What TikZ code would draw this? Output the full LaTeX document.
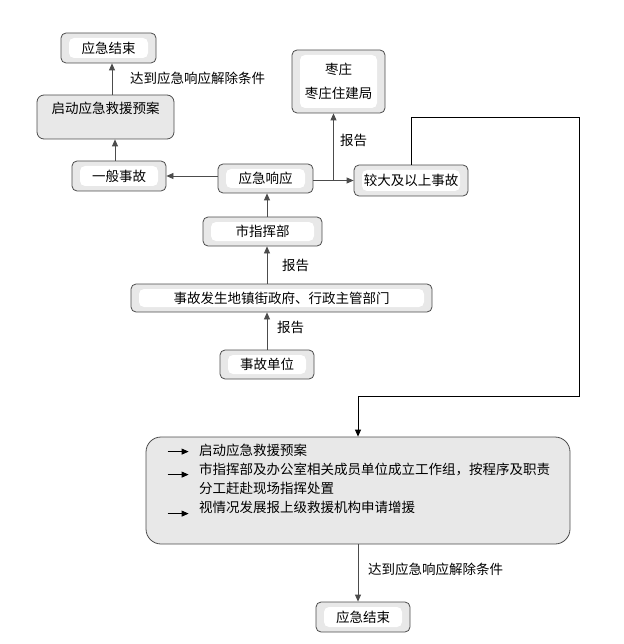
\documentclass[tikz,border=0pt]{standalone}
\usepackage{fontspec}
\newfontfamily\cjk{Noto Sans CJK SC}
\usepackage{tikz}
\usetikzlibrary{arrows.meta, positioning, calc}
\definecolor{edgeGray}{gray}{0.3}
\definecolor{fillGray}{gray}{0.91}
\definecolor{lineGray}{gray}{0.3}

\tikzset{
  flowbox/.style={draw=edgeGray, fill=fillGray, rounded corners=5pt, line width=0.8pt, inner sep=0pt, minimum height=30pt,
    path picture={\fill[white] ([shift={(8pt,-5pt)}]path picture bounding box.north west) rectangle ([shift={(-8pt,5pt)}]path picture bounding box.south east);}},
  graybox/.style={draw=edgeGray, fill=fillGray, rounded corners=7pt, line width=0.8pt, inner sep=0pt},
  conn/.style={->, lineGray, line width=0.8pt},
  note/.style={anchor=west, inner sep=0pt}
}

\begin{document}
\begin{tikzpicture}[x=1pt, y=-1pt, >={Triangle[length=7pt,width=6pt]}, every node/.style={font=\cjk\fontsize{13.5}{18}\selectfont}]
    \useasboundingbox (0,0) rectangle (623,644);

    \node[flowbox, minimum width=95pt] (endTop) at (108.5,48) {应急结束};
    \node[graybox, minimum width=137pt, minimum height=44pt, align=center] (plan) at (105.5,117) {启动应急救援预案\\ ~};
    \node[flowbox, minimum width=94pt] (minor) at (119,176) {一般事故};
    \node[flowbox, minimum width=95pt, minimum height=29pt] (resp) at (265.5,178.5) {应急响应};
    \node[flowbox, minimum width=93pt, minimum height=63pt, align=center] (zaozhuang) at (338.5,81.5) {枣庄\\[6pt]枣庄住建局};
    \node[flowbox, minimum width=114pt, minimum height=31pt] (major) at (411,180.5) {较大及以上事故};
    \node[flowbox, minimum width=119pt, minimum height=29pt] (cmd) at (262.5,231.5) {市指挥部};
    \node[flowbox, minimum width=301pt, minimum height=28pt] (town) at (281.5,298) {事故发生地镇街政府、行政主管部门};
    \node[flowbox, minimum width=94pt, minimum height=29pt] (unit) at (267,364.5) {事故单位};
    \node[graybox, rounded corners=15pt, minimum width=424pt, minimum height=107pt] (big) at (358,490.5) {};
    \node[anchor=base west, inner sep=0pt, align=left, font=\cjk\fontsize{13.5}{18.7}\selectfont] (steps) at (199,512)
        {启动应急救援预案\\市指挥部及办公室相关成员单位成立工作组，按程序及职责\\分工赶赴现场指挥处置\\视情况发展报上级救援机构申请增援};
    \node[flowbox, minimum width=94pt] (endBot) at (363,617) {应急结束};

    \draw[conn] (unit.north) -- (unit.north |- town.south);
    \draw[conn] (town.north -| unit) -- (cmd.south -| unit);
    \draw[conn] (cmd.north -| unit) -- (resp.south -| unit);
    \draw[conn] (resp.west |- minor) -- (minor.east);
    \draw[conn] ([xshift=-4pt]minor.north) -- ([xshift=-4pt]minor.north |- plan.south);
    \draw[conn] ([xshift=6.5pt]plan.north) -- ([xshift=6.5pt]plan.north |- endTop.south);
    \draw[conn] (resp.east |- major) -- (major.west);
    \coordinate (split) at ($(resp.east |- major)!0.5!(major.west)$);
    \draw[conn] (split) -- (split |- zaozhuang.south);

    \coordinate (loopTop) at (579,117);
    \coordinate (loopBot) at (358,396);
    \draw[->, black, line width=0.8pt] (major.north) |- (loopTop) |- (loopBot) -- (loopBot |- big.north);
    \draw[conn] (big.south) -- (big.south |- endBot.north);

    \draw[->, black, line width=0.8pt] ([xshift=22pt,yshift=-15pt]big.north west) -- ++(21pt,0);
    \draw[->, black, line width=0.8pt] ([xshift=22pt,yshift=-38pt]big.north west) -- ++(21pt,0);
    \draw[->, black, line width=0.8pt] ([xshift=22pt,yshift=-77pt]big.north west) -- ++(21pt,0);

    \node[note] at (130,78) {达到应急响应解除条件};
    \node[note] at (340,140) {报告};
    \node[note] at (282,265) {报告};
    \node[note] at (277,327) {报告};
    \node[note] at (368,569) {达到应急响应解除条件};
\end{tikzpicture}
\end{document}
